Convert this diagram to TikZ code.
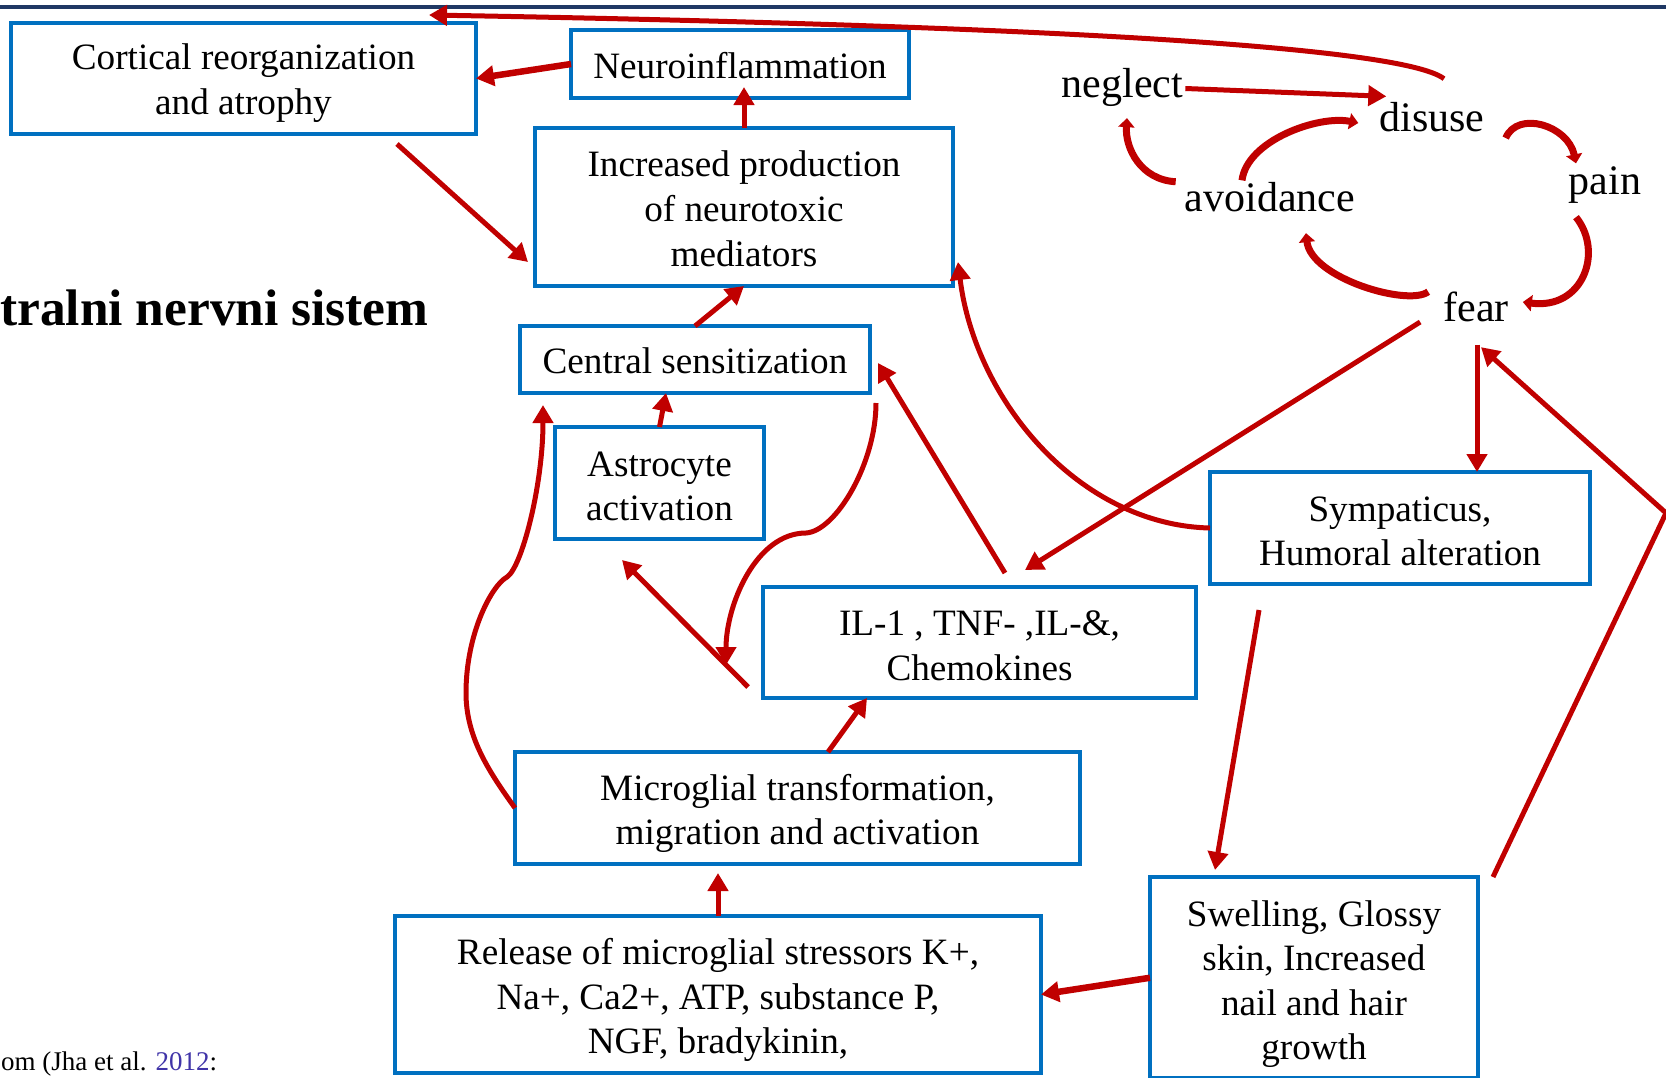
\documentclass[tikz,border=0pt]{standalone}
\usepackage{fontspec}
\setmainfont{Liberation Serif}
\usetikzlibrary{calc,arrows.meta}
\definecolor{boxblue}{RGB}{0,112,192}
\definecolor{arrowred}{RGB}{192,0,0}
\definecolor{barblue}{RGB}{31,56,100}
\definecolor{citeblue}{RGB}{64,52,168}
\newcommand{\textdrop}[1]{\rule{0pt}{#1}}

\begin{document}
\begin{tikzpicture}[x=1pt,y=-1pt,
	box/.style={draw=boxblue,line width=4.5pt,fill=white,align=center,inner sep=0pt,outer sep=0pt,font=\fontsize{37.2}{44.6}\selectfont},
	word/.style={inner sep=2pt,text height=29.4pt,text depth=10.5pt,font=\fontsize{42}{50}\selectfont},
	link/.style={draw=arrowred,line width=5pt,-{Triangle[length=18pt,width=20pt]}},
	turn/.style={draw=arrowred,line width=7pt,-{Triangle[length=9pt,width=16pt]}}]
	\useasboundingbox (0,0) rectangle (1666,1077);
	\fill [barblue] (0,5) rectangle (1666,9);
	\node [box,minimum width=465pt,minimum height=111pt] at (243.5,78.5) (cort) {\textdrop{35.4pt}Cortical reorganization\\and atrophy};
	\node [box,minimum width=338pt,minimum height=68pt] at (740,64) (neuro) {\textdrop{29.4pt}Neuroinflammation};
	\node [box,minimum width=418pt,minimum height=158pt] at (744,207) (incr) {\textdrop{29.4pt}Increased production\\of neurotoxic\\mediators};
	\node [box,minimum width=350pt,minimum height=67pt] at (695,359.5) (cent) {\textdrop{27.4pt}Central sensitization};
	\node [box,minimum width=209pt,minimum height=112pt] at (659.5,483) (astro) {\textdrop{31.4pt}Astrocyte\\activation};
	\node [box,minimum width=433pt,minimum height=111pt] at (979.5,642.5) (il) {\textdrop{31.4pt}IL-1 , TNF- ,IL-\&,\\Chemokines};
	\node [box,minimum width=380pt,minimum height=112pt] at (1400,528) (symp) {\textdrop{31.4pt}Sympaticus,\\Humoral alteration};
	\node [box,minimum width=565pt,minimum height=112pt] at (797.5,808) (micro) {\textdrop{37.4pt}Microglial transformation,\\migration and activation};
	\node [box,minimum width=646pt,minimum height=157pt] at (718,994.5) (rel) {\textdrop{37.4pt}Release of microglial stressors K+,\\Na+, Ca2+, ATP, substance P,\\NGF, bradykinin,};
	\node [box,minimum width=328pt,minimum height=201.5pt] at (1314,977.75) (swell) {\textdrop{38.4pt}Swelling, Glossy\\skin, Increased\\nail and hair\\growth};
	\node [word] at (1122.5,88.5) (neglect) {neglect};
	\node [word] at (1432,122.5) (disuse) {disuse};
	\node [word] at (1270,202.5) (avoid) {avoidance};
	\node [word] at (1605,185.5) (pain) {pain};
	\node [word] at (1476,312.5) (fear) {fear};
	\node [anchor=base west,inner sep=0pt,font=\fontsize{51.4}{60}\selectfont\bfseries] at (0,325) (title) {tralni nervni sistem};
	\node [anchor=base west,inner sep=0pt,font=\fontsize{27}{32}\selectfont] at (1,1070) (cite) {om (Jha et al. \textcolor{citeblue}{2012}:};
	\draw [link] ($(disuse.north)+(12,-21.6)$) .. controls +(-44,-34) and +(571,10) .. ($(cort.north east)+(-47,-8)$);
	\draw [link] (neglect.east) -- ($(disuse.north west)+(9,-4)$);
	\draw [link,line width=6.5pt] (neuro.west) -- (cort.east);
	\draw [link] (incr.north) -- ++(0,-41);
	\draw [link] ($(cort.south)+(153.5,10)$) -- ($(incr.south west)+(-7,-24)$);
	\draw [link] (cent.north) -- (incr.south);
	\draw [link] (astro.north) -- ($(cent.south)+(-29,0)$);
	\draw [link] (micro.west) .. controls +(-25,-35) and +(0,45) .. ++(-49,-115) .. controls +(0,-60) and +(-15,8) .. ++(41,-116) .. controls +(15,-10) and +(0,80) .. ($(cent.south west)+(23,12)$);
	\draw [link] ($(cent.south east)+(6,10)$) .. controls +(0,60) and +(30,-2) .. ++(-70,130) .. controls +(-50,0) and +(0,-60) .. ($(il.west)+(-37,22.5)$);
	\draw [link] ($(il.south west)+(-15,-11)$) -- ($(astro.south)+(-37.5,21)$);
	\draw [link] ($(il.north)+(25.5,-14)$) -- ($(cent.east)+(8,3.5)$);
	\draw [link] ($(micro.north)+(30.5,0)$) -- ($(il.south)+(-112.5,0)$);
	\draw [link] (rel.north) -- ++(0,-43);
	\draw [link,line width=6.5pt] (swell.west) -- (rel.east);
	\draw [link] (symp.west) .. controls +(-131,-3) and +(17,138) .. ($(incr.south east)+(5,-24)$);
	\draw [link] ($(fear.west)+(-21,9.5)$) -- ($(il.north)+(45.5,-17)$);
	\draw [link] ($(fear.south)+(1,10)$) -- ($(symp.north)+(77,0)$);
	\draw [link] ($(symp.south)+(-141,26)$) -- ($(swell.north)+(-99,-7)$);
	\draw [link] ($(swell.north east)+(15,0)$) -- ++(173,-364) -- ($(fear.south)+(5,12.5)$);
	\draw [turn] ($(avoid.north west)+(-7,1.4)$) .. controls +(-35,-2) and +(-2,30) .. ($(neglect.south)+(4.5,7.5)$);
	\draw [turn] ($(avoid.north)+(-28,0)$) .. controls +(5,-40) and +(-40,-8) .. ($(disuse.west)+(-19,0.5)$);
	\draw [turn] ($(disuse.east)+(19,15.5)$) .. controls +(12,-28) and +(-8,-38) .. ($(pain.north)+(-29,0)$);
	\draw [turn] ($(pain.south)+(-29,9.5)$) .. controls +(28,35) and +(60,8) .. ($(fear.east)+(12,-10.5)$);
	\draw [turn] ($(fear.north west)+(-13,1.4)$) .. controls +(-20,15) and +(5,45) .. ($(avoid.south)+(36,8.5)$);
\end{tikzpicture}
\end{document}
